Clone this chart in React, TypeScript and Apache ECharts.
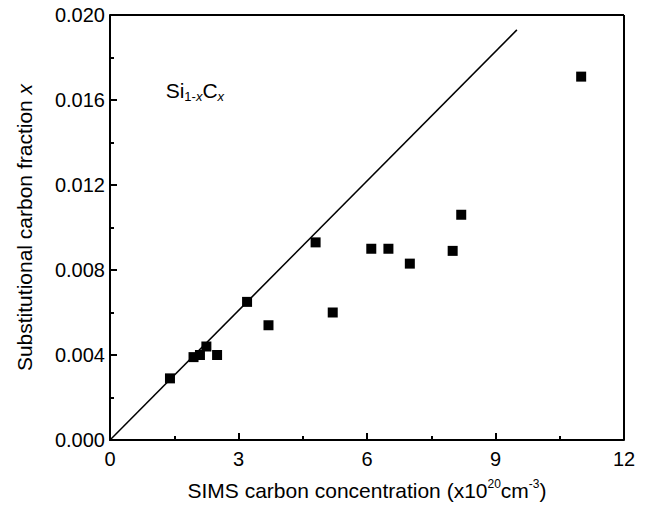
import React, { useEffect, useRef } from "react";
import * as echarts from "echarts";

const simsConc = [1.4, 1.95, 2.1, 2.25, 2.5, 3.2, 3.7, 4.8, 5.2, 6.1, 6.5, 7.0, 8.0, 8.2, 11.0];
const subFraction = [0.0029, 0.0039, 0.004, 0.0044, 0.004, 0.0065, 0.0054, 0.0093, 0.006, 0.009, 0.009, 0.0083, 0.0089, 0.0106, 0.0171];
const refLineX = [0, 9.5];
const refLineY = [0, 0.0193];
const xTicks = [0, 3, 6, 9, 12];
const yTicks = [0, 0.004, 0.008, 0.012, 0.016, 0.02];

const FONT = "Liberation Sans, Arial, sans-serif";

export default function App() {
  const ref = useRef<HTMLDivElement>(null);
  useEffect(() => {
    if (!ref.current) return;
    const chart = echarts.init(ref.current, null, { renderer: "svg" });
    const xMax = xTicks[xTicks.length - 1];
    const yMax = yTicks[yTicks.length - 1];
    chart.setOption({
      animation: false,
      backgroundColor: "#fff",
      grid: {
        left: 102, right: 15, top: 7, bottom: 64,
        outerBoundsMode: "none", containLabel: false,
      },
      xAxis: {
        type: "value",
        min: xTicks[0],
        max: xMax,
        interval: 3,
        name: "SIMS carbon concentration (x10{sup|20}cm{sup|-3})",
        nameLocation: "middle",
        nameGap: 38,
        nameTextStyle: {
          fontFamily: FONT,
          fontSize: 21,
          color: "#000",
          rich: {
            sup: { fontFamily: FONT, fontSize: 12, verticalAlign: "top", padding: [0, 0, 12, 0], color: "#000" },
          },
        },
        axisLine: { onZero: false, lineStyle: { color: "#000", width: 2 } },
        axisTick: { inside: true, length: 7, lineStyle: { color: "#000", width: 2 } },
        minorTick: { show: true, splitNumber: 2, length: 4, lineStyle: { color: "#000", width: 2 } },
        axisLabel: { fontFamily: FONT, fontSize: 20, color: "#000", margin: 9 },
        splitLine: { show: false },
      },
      yAxis: {
        type: "value",
        min: yTicks[0],
        max: yMax,
        interval: 0.004,
        name: "Substitutional carbon fraction {i|x}",
        nameLocation: "middle",
        nameGap: 75,
        nameTextStyle: {
          fontFamily: FONT,
          fontSize: 21,
          color: "#000",
          rich: { i: { fontFamily: FONT, fontSize: 21, fontStyle: "italic", color: "#000" } },
        },
        axisLine: { onZero: false, lineStyle: { color: "#000", width: 2 } },
        axisTick: { inside: true, length: 7, lineStyle: { color: "#000", width: 2 } },
        minorTick: { show: true, splitNumber: 2, length: 4, lineStyle: { color: "#000", width: 2 } },
        axisLabel: { fontFamily: FONT, fontSize: 20, color: "#000", margin: 5, formatter: (v: number) => v.toFixed(3) },
        splitLine: { show: false },
      },
      series: [
        {
          type: "line",
          data: refLineX.map((x, i) => [x, refLineY[i]]),
          showSymbol: false,
          lineStyle: { color: "#000", width: 1.5 },
          silent: true,
        },
        {
          type: "scatter",
          data: simsConc.map((x, i) => [x, subFraction[i]]),
          symbol: "rect",
          symbolSize: 10,
          itemStyle: { color: "#000", opacity: 1 },
        },
      ],
    });
    const tl = chart.convertToPixel({ gridIndex: 0 }, [xTicks[0], yMax]) as number[];
    const br = chart.convertToPixel({ gridIndex: 0 }, [xMax, yTicks[0]]) as number[];
    const lbl = chart.convertToPixel({ gridIndex: 0 }, [1.3, 0.0168]) as number[];
    chart.setOption({
      graphic: [
        {
          type: "line",
          shape: { x1: tl[0], y1: tl[1], x2: br[0], y2: tl[1] },
          style: { stroke: "#000", lineWidth: 2 },
          silent: true,
          z: 100,
        },
        {
          type: "line",
          shape: { x1: br[0], y1: tl[1], x2: br[0], y2: br[1] },
          style: { stroke: "#000", lineWidth: 2 },
          silent: true,
          z: 100,
        },
        {
          type: "text",
          x: lbl[0],
          y: lbl[1] - 6,
          style: {
            text: "Si{sub|1-}{subi|x}C{sub2|x}",
            fontFamily: FONT,
            fontSize: 21,
            fill: "#000",
            rich: {
              sub: { fontFamily: FONT, fontSize: 13, padding: [13, 0, 0, 0], fill: "#000" },
              subi: { fontFamily: FONT, fontSize: 13, fontStyle: "italic", padding: [13, 0, 0, 0], fill: "#000" },
              sub2: { fontFamily: FONT, fontSize: 13, fontStyle: "italic", padding: [13, 0, 0, 0], fill: "#000" },
            },
          },
        },
      ],
    });
    return () => chart.dispose();
  }, []);
  return <div ref={ref} style={{ width: 631, height: 496 }} />;
}
